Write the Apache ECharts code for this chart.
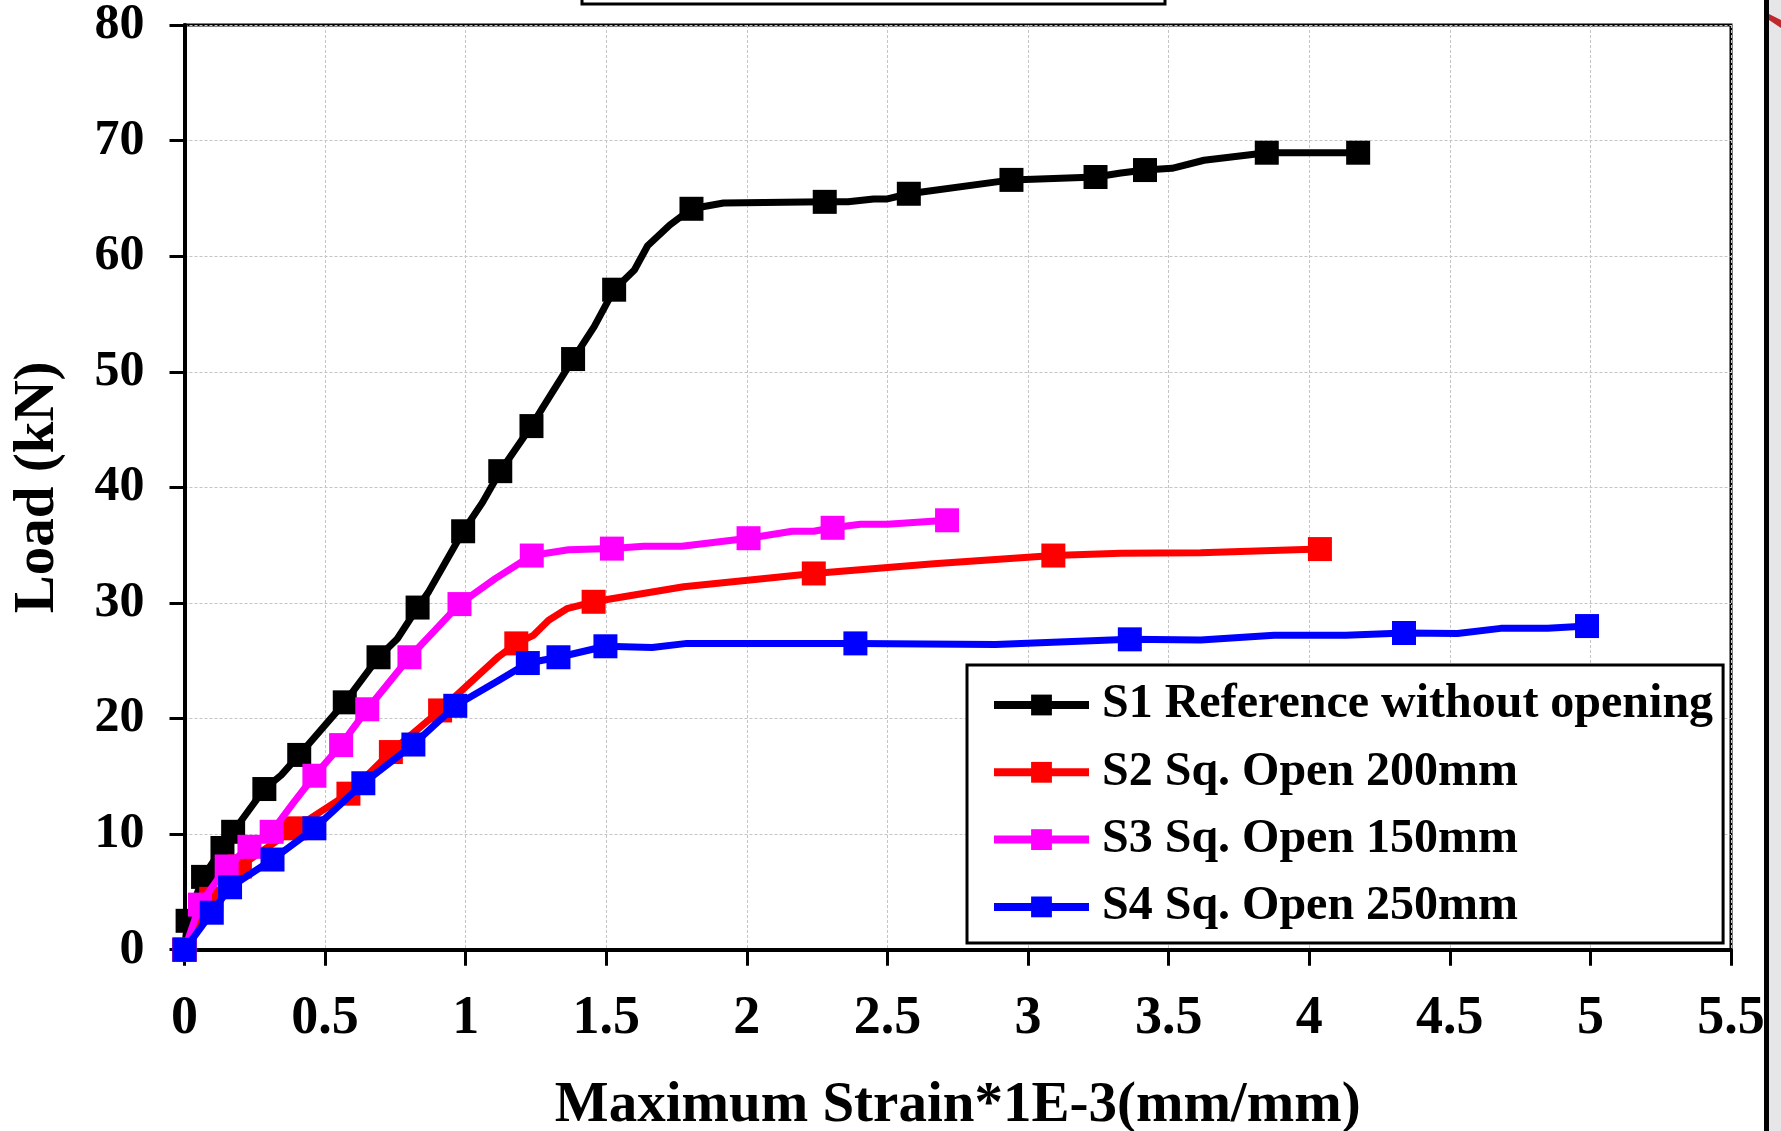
<!DOCTYPE html>
<html><head><meta charset="utf-8">
<script src="https://cdn.jsdelivr.net/npm/echarts@6/dist/echarts.min.js"></script>
<style>html,body{margin:0;padding:0;background:#fff;overflow:hidden}#c{width:1781px;height:1131px}</style>
</head><body><div id="c"></div>
<script>
// ---- data ----
const seriesNames = ['S1 Reference without opening', 'S2 Sq. Open 200mm', 'S3 Sq. Open 150mm', 'S4 Sq. Open 250mm'];
const seriesColors = ['#000000', '#ff0000', '#ff00ff', '#0000ff'];

const s1Strain = [0, 0.011, 0.066, 0.135, 0.173, 0.284, 0.344, 0.408, 0.57, 0.69, 0.757, 0.829, 0.869, 0.991, 1.06, 1.123, 1.234, 1.274, 1.382, 1.457, 1.528, 1.6, 1.647, 1.726, 1.803, 1.917, 2.277, 2.36, 2.451, 2.5, 2.576, 2.941, 3.116, 3.24, 3.33, 3.416, 3.512, 3.626, 3.849, 4.174];
const s1Load   = [0, 2.5, 6.3, 8.8, 10.2, 13.9, 15.1, 16.85, 21.4, 25.3, 26.9, 29.6, 31.0, 36.2, 38.7, 41.4, 45.3, 46.9, 51.1, 53.9, 57.1, 58.8, 60.9, 62.7, 64.1, 64.6, 64.7, 64.7, 64.95, 64.95, 65.4, 66.6, 66.75, 66.85, 67.2, 67.45, 67.6, 68.3, 68.95, 68.95];
const s1Marked = [1, 1, 1, 1, 1, 1, 0, 1, 1, 1, 0, 1, 0, 1, 0, 1, 1, 0, 1, 0, 1, 0, 0, 0, 1, 0, 1, 0, 0, 0, 1, 1, 0, 1, 0, 1, 0, 0, 1, 1];

const s2Strain = [0, 0.095, 0.197, 0.393, 0.583, 0.734, 0.909, 1.052, 1.117, 1.18, 1.241, 1.295, 1.36, 1.455, 1.775, 2.238, 2.665, 3.09, 3.33, 3.614, 4.038];
const s2Load   = [0, 4.4, 7.2, 10.5, 13.5, 17.1, 20.7, 23.9, 25.35, 26.5, 27.2, 28.5, 29.5, 30.1, 31.4, 32.55, 33.4, 34.1, 34.3, 34.35, 34.66];
const s2Marked = [1, 1, 1, 1, 1, 1, 1, 0, 0, 1, 0, 0, 0, 1, 0, 1, 0, 1, 0, 0, 1];

const s3Strain = [0, 0.055, 0.15, 0.231, 0.31, 0.387, 0.462, 0.557, 0.595, 0.65, 0.8, 0.891, 0.978, 1.105, 1.235, 1.366, 1.52, 1.633, 1.769, 2.006, 2.161, 2.238, 2.305, 2.404, 2.499, 2.712];
const s3Load   = [0, 3.9, 7.2, 8.9, 10.2, 12.7, 15.05, 17.7, 19.0, 20.8, 25.3, 27.65, 29.9, 32.1, 34.1, 34.6, 34.7, 34.9, 34.9, 35.6, 36.2, 36.2, 36.5, 36.8, 36.8, 37.15];
const s3Marked = [1, 1, 1, 1, 1, 0, 1, 1, 0, 1, 1, 0, 1, 0, 1, 0, 1, 0, 0, 1, 0, 0, 1, 0, 0, 1];

const s4Strain = [0, 0.097, 0.162, 0.313, 0.462, 0.636, 0.814, 0.963, 1.111, 1.221, 1.33, 1.497, 1.663, 1.787, 2.386, 2.884, 3.362, 3.614, 3.875, 4.13, 4.337, 4.527, 4.681, 4.848, 4.988];
const s4Load   = [0, 3.2, 5.4, 7.8, 10.5, 14.4, 17.75, 21.1, 23.2, 24.8, 25.3, 26.25, 26.15, 26.5, 26.5, 26.4, 26.85, 26.8, 27.2, 27.2, 27.4, 27.35, 27.8, 27.8, 28.0];
const s4Marked = [1, 1, 1, 1, 1, 1, 1, 1, 0, 1, 1, 1, 0, 0, 1, 0, 1, 0, 0, 0, 1, 0, 0, 0, 1];

const xAxisTitle = 'Maximum Strain*1E-3(mm/mm)';
const yAxisTitle = 'Load (kN)';

// ---- build ----
const FONT = '"Liberation Serif", "Times New Roman", serif';
function build(strain, load, marked) {
  return strain.map((x, i) => marked[i] ? { value: [x, load[i]] } : { value: [x, load[i]], symbol: 'none' });
}
const allData = [
  build(s1Strain, s1Load, s1Marked),
  build(s2Strain, s2Load, s2Marked),
  build(s3Strain, s3Load, s3Marked),
  build(s4Strain, s4Load, s4Marked)
];

const chart = echarts.init(document.getElementById('c'), null, { renderer: 'canvas' });
chart.setOption({
  animation: false,
  backgroundColor: '#ffffff',
  grid: {
    left: 184.5, right: 50, top: 25, bottom: 181.3,
    outerBoundsMode: 'none', containLabel: false,
    show: true, borderColor: '#000', borderWidth: 3, backgroundColor: 'transparent'
  },
  xAxis: {
    type: 'value', min: 0, max: 5.5, interval: 0.5,
    name: xAxisTitle, nameLocation: 'middle', nameGap: 128,
    nameTextStyle: { fontFamily: FONT, fontWeight: 'bold', fontSize: 57, color: '#000' },
    axisLine: { show: true, onZero: false, lineStyle: { color: '#000', width: 4 } },
    axisTick: { show: true, inside: false, length: 16, lineStyle: { color: '#000', width: 3 } },
    axisLabel: { margin: 42, fontFamily: FONT, fontWeight: 'bold', fontSize: 54, color: '#000' },
    splitLine: { show: true, lineStyle: { color: '#c4c4c4', width: 1, type: [3, 2] } }
  },
  yAxis: {
    type: 'value', min: 0, max: 80, interval: 10,
    name: yAxisTitle, nameLocation: 'middle', nameGap: 118, nameRotate: 90,
    nameTextStyle: { fontFamily: FONT, fontWeight: 'bold', fontSize: 57, color: '#000' },
    axisLine: { show: true, onZero: false, lineStyle: { color: '#000', width: 4 } },
    axisTick: { show: true, inside: false, length: 15, lineStyle: { color: '#000', width: 3 } },
    axisLabel: { margin: 40, fontFamily: FONT, fontWeight: 'bold', fontSize: 50, color: '#000' },
    splitLine: { show: true, lineStyle: { color: '#c4c4c4', width: 1, type: [3, 2] } }
  },
  legend: {
    show: true, orient: 'vertical', left: 967, top: 665,
    padding: [16, 10, 12, 23], itemGap: 19.3,
    itemWidth: 95, itemHeight: 26,
    backgroundColor: '#fff', borderColor: '#000', borderWidth: 3,
    lineStyle: { width: 8 },
    textStyle: { fontFamily: FONT, fontWeight: 'bold', fontSize: 48, color: '#000', padding: [0, 0, 0, 8], lineHeight: 48 },
    data: seriesNames
  },
  series: allData.map((d, i) => ({
    type: 'line', name: seriesNames[i], data: d,
    symbol: 'rect', symbolSize: 24, showSymbol: true, showAllSymbol: true,
    color: seriesColors[i],
    lineStyle: { color: seriesColors[i], width: 7 },
    itemStyle: { color: seriesColors[i] },
    z: 2 + i, clip: false, emphasis: { disabled: true }
  })),
  graphic: [
    { type: 'rect', shape: { x: 582, y: -10, width: 583, height: 14 }, style: { fill: '#fff', stroke: '#000', lineWidth: 3 } },
    { type: 'rect', shape: { x: 1769, y: 0, width: 12, height: 1131 }, style: { fill: '#e6e6e9' } },
    { type: 'rect', shape: { x: 1764, y: 0, width: 5, height: 1131 }, style: { fill: '#000' } },
    { type: 'polygon', shape: { points: [[1769, 14], [1781, 20], [1781, 28], [1769, 20]] }, style: { fill: '#c0282d' } }
  ]
});
</script>
</body></html>
